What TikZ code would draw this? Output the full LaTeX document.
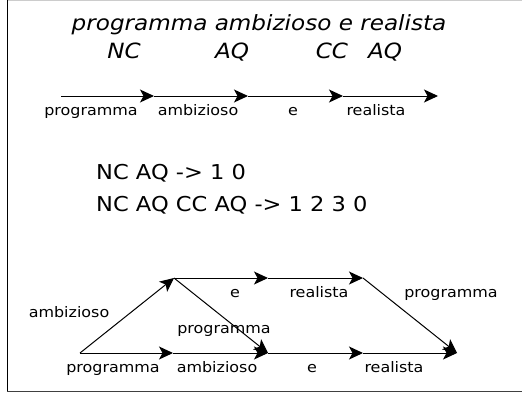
\documentclass[tikz,border=0pt]{standalone}
\usepackage{fontspec}
\setmainfont{DejaVu Sans}[FakeStretch=1.1]
\usetikzlibrary{arrows.meta}
\tikzset{
  edge/.style={line width=1pt, -{Stealth[length=14pt,width=13pt,inset=3.5pt]}},
  lbl/.style={anchor=base, inner sep=0pt, font=\fontsize{14.5}{17}\selectfont},
  big/.style={anchor=base, inner sep=0pt, font=\fontsize{21}{25}\selectfont\itshape},
  rule/.style={anchor=base west, inner sep=0pt, font=\fontsize{20.5}{24}\selectfont},
}
\begin{document}
\begin{tikzpicture}[x=1pt, y=-1pt]
  \useasboundingbox (0,0) rectangle (522,396);
  % frame
  \draw[gray!40] (7,0.5) -- (522,0.5);
  \draw[line width=1pt] (7,0) -- (7,391.5);
  \draw[line width=1pt, black!75] (7,391.5) -- (522,391.5);
  %
  \node[big] (title) at (259,31) {programma ambizioso e realista};
  \node[big] (nc) at (124,59) {NC};
  \node[big] (aq1) at (232,59) {AQ};
  \node[big] (cc) at (332,59) {CC};
  \node[big] (aq2) at (385,59) {AQ};
  %
  \coordinate (a0) at (61,96);
  \coordinate (a1) at (154,96);
  \coordinate (a2) at (248,96);
  \coordinate (a3) at (343,96);
  \coordinate (a4) at (438,96);
  \draw[edge] (a0) -- (a1);
  \draw[edge] (a1) -- (a2);
  \draw[edge] (a2) -- (a3);
  \draw[edge] (a3) -- (a4);
  \node[lbl] (w1) at (91,115) {programma};
  \node[lbl] (w2) at (198,115) {ambizioso};
  \node[lbl] (w3) at (293,115) {e};
  \node[lbl] (w4) at (376,115) {realista};
  %
  \node[rule] (r1) at (96,179) {NC AQ -> 1 0};
  \node[rule] (r2) at (96,211) {NC AQ CC AQ -> 1 2 3 0};
  %
  \coordinate (b0) at (80,353);
  \coordinate (b1) at (173,353);
  \coordinate (b2) at (268,353);
  \coordinate (b3) at (363,353);
  \coordinate (b4) at (457,353);
  \coordinate (t1) at (174,278);
  \coordinate (t2) at (268,278);
  \coordinate (t3) at (363,278);
  \draw[edge] (b0) -- (t1);
  \draw[edge] (b0) -- (b1);
  \draw[edge] (b1) -- (b2);
  \draw[edge] (b2) -- (b3);
  \draw[edge] (b3) -- (b4);
  \draw[edge] (t1) -- (t2);
  \draw[edge] (t2) -- (t3);
  \draw[edge] (t1) -- (b2);
  \draw[edge] (t3) -- (b4);
  %
  \node[lbl] (l1) at (69,317) {ambizioso};
  \node[lbl] (l2) at (235,297) {e};
  \node[lbl] (l3) at (319,297) {realista};
  \node[lbl] (l4) at (451,297) {programma};
  \node[lbl] (l5) at (224,333) {programma};
  \node[lbl] (l6) at (113,372) {programma};
  \node[lbl] (l7) at (217,372) {ambizioso};
  \node[lbl] (l8) at (312,372) {e};
  \node[lbl] (l9) at (394,372) {realista};
\end{tikzpicture}
\end{document}
